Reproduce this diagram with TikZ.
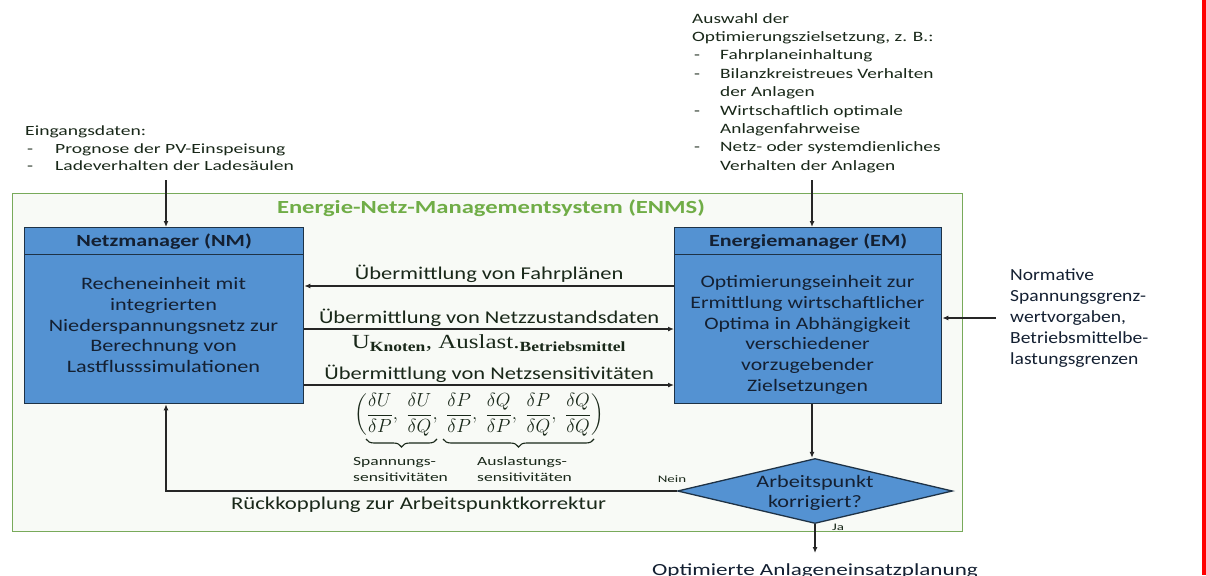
\RequirePackage{fix-cm}
\documentclass[tikz,border=0pt]{standalone}
\usepackage{amsmath}
\usepackage{fontspec}
\setmainfont{Carlito}
\newfontfamily\serifU{Liberation Serif}
\usetikzlibrary{shapes.geometric,arrows.meta,decorations.pathreplacing}
\definecolor{boxblue}{RGB}{84,146,210}
\definecolor{boxline}{RGB}{30,50,70}
\definecolor{enmsgreen}{RGB}{112,173,71}
\definecolor{enmsline}{RGB}{120,170,90}
\definecolor{enmsfill}{RGB}{248,250,246}
\definecolor{boxtxt}{RGB}{20,32,50}
\definecolor{lbltxt}{RGB}{25,40,25}
\newcommand{\wide}[1]{\addfontfeatures{FakeStretch=#1}}
\tikzset{
  panel/.style={draw=boxline, line width=1.3pt, fill=boxblue, inner sep=0pt, anchor=north west},
  arr/.style={line width=1.4pt, draw=black!85, -{Latex[length=6pt,width=5pt]}},
  flowlbl/.style={text=lbltxt, font=\fontsize{18}{21}\selectfont\wide{1.25}, inner sep=0pt},
  bodytxt/.style={text=boxtxt, align=center, font=\fontsize{17.5}{20.8}\selectfont\wide{1.27}, inner sep=0pt},
  headtxt/.style={text=boxtxt, font=\bfseries\fontsize{17}{20}\selectfont\wide{1.3}, inner sep=0pt},
  smalltxt/.style={text=lbltxt, font=\fontsize{12.5}{16}\selectfont\wide{1.4}, inner sep=0pt, align=left},
  tinytxt/.style={text=lbltxt, font=\fontsize{10}{11}\selectfont\wide{1.5}, inner sep=0pt},
  brc/.style={line width=1.1pt, draw=lbltxt, decorate, decoration={brace, mirror, amplitude=8pt}}
}
\begin{document}
\begin{tikzpicture}[x=1pt,y=-1pt]
\useasboundingbox (0,0) rectangle (1206,575);
\fill[white] (0,0) rectangle (1206,575);
\fill[red] (1201.5,0) rectangle (1206,575);

% ENMS frame
\node (enms) [draw=enmsline, line width=1.2pt, fill=enmsfill, minimum width=950, minimum height=338, inner sep=0pt, anchor=north west] at (12,193) {};
\node (title) [text=enmsgreen, font=\bfseries\fontsize{18.5}{22}\selectfont\wide{1.33}, inner sep=0pt] at (491,208) {Energie-Netz-Managementsystem (ENMS)};

% NM
\node (nmhead) [panel, minimum width=279, minimum height=27] at (24,227) {};
\node (nmbody) [panel, minimum width=279, minimum height=149] at (24,254) {};
\node (nmht) [headtxt] at (nmhead.center) {Netzmanager (NM)};
\node (nmbt) [bodytxt] at (163.5,325) {Recheneinheit mit\\integrierten\\Niederspannungsnetz zur\\Berechnung von\\Lastflusssimulationen};

% EM
\node (emhead) [panel, minimum width=267, minimum height=27] at (674,227) {};
\node (embody) [panel, minimum width=267, minimum height=149] at (674,254) {};
\node (emht) [headtxt] at (emhead.center) {Energiemanager (EM)};
\node (embt) [bodytxt, font=\fontsize{17.5}{20.8}\selectfont\wide{1.24}] at (807.5,335) {Optimierungseinheit zur\\Ermittlung wirtschaftlicher\\Optima in Abhängigkeit\\verschiedener\\vorzugebender\\Zielsetzungen};

% Decision
\node (dia) [diamond, draw=boxline, line width=1.3pt, fill=boxblue, minimum width=275, minimum height=65, inner sep=0pt] at (815,491) {};
\node (diat) [bodytxt] at (815,493) {Arbeitspunkt\\korrigiert?};

% Inputs
\node (inL) [smalltxt, anchor=north west, font=\fontsize{14}{17.6}\selectfont\wide{1.4}] at (25,123) {%
  \begin{tabular}{@{}p{30pt}@{}l@{}}
  \multicolumn{2}{@{}l}{Eingangsdaten:}\\
  \hspace{2pt}- & Prognose der PV-Einspeisung\\
  \hspace{2pt}- & Ladeverhalten der Ladesäulen
  \end{tabular}};
\node (inR) [smalltxt, anchor=north west, font=\fontsize{14.3}{18.4}\selectfont\wide{1.35}] at (692,10) {%
  \begin{tabular}{@{}p{28pt}@{}l@{}}
  \multicolumn{2}{@{}l}{Auswahl der}\\
  \multicolumn{2}{@{}l}{Optimierungszielsetzung, z. B.:}\\
  \hspace{2pt}- & Fahrplaneinhaltung\\
  \hspace{2pt}- & Bilanzkreistreues Verhalten\\
   & der Anlagen\\
  \hspace{2pt}- & Wirtschaftlich optimale\\
   & Anlagenfahrweise\\
  \hspace{2pt}- & Netz- oder systemdienliches\\
   & Verhalten der Anlagen
  \end{tabular}};
\node (norm) [text=boxtxt, align=left, anchor=west, inner sep=0pt, font=\fontsize{17}{21.2}\selectfont\wide{1.15}] at (1010,318) {Normative\\Spannungsgrenz-\\wertvorgaben,\\Betriebsmittelbe-\\lastungsgrenzen};

\coordinate (inLa) at (166,180);
\coordinate (inRa) at (812,180);
\coordinate (normA) at (996,318);
\coordinate (outA) at (815,553);

\draw[arr] (inLa) -- (inLa |- nmhead.north);
\draw[arr] (inRa) -- (inRa |- emhead.north);
\draw[arr] (normA) -- (normA -| embody.east);

% flows
\draw[arr] (embody.west |- 0,286) -- node[flowlbl, above=3pt] (f1) {Übermittlung von Fahrplänen} (nmbody.east |- 0,286);
\draw[arr] (nmbody.east |- 0,329) -- node[flowlbl, above=2pt] (f2) {Übermittlung von Netzzustandsdaten} (embody.west |- 0,329);
\node (f2b) [text=lbltxt, inner sep=0pt, font=\serifU\fontsize{20}{22}\selectfont\wide{1.25}] at (489,343) {U\textsubscript{\textbf{Knoten}}, Auslast.\textsubscript{\textbf{Betriebsmittel}}};
\draw[arr] (nmbody.east |- 0,385) -- node[flowlbl, above=2pt] (f3) {Übermittlung von Netzsensitivitäten} (embody.west |- 0,385);

% sensitivity matrix
\node (mat) [text=lbltxt, inner sep=0pt, font=\fontsize{19}{22}\selectfont] at (479,415) {$\displaystyle\biggl(\frac{\delta U}{\delta P},\;\frac{\delta U}{\delta Q},\;\frac{\delta P}{\delta P},\;\frac{\delta Q}{\delta P},\;\frac{\delta P}{\delta Q},\;\frac{\delta Q}{\delta Q}\biggr)$};
\coordinate (b1l) at (366,439);
\coordinate (b1r) at (437,439);
\coordinate (b2l) at (443,439);
\coordinate (b2r) at (594,439);
\draw[brc] (b1l) -- (b1r);
\draw[brc] (b2l) -- (b2r);
\node (s1) [smalltxt, anchor=north west] at (353,457) {Spannungs-\\sensitivitäten};
\node (s2) [smalltxt, anchor=north west] at (477,457) {Auslastungs-\\sensitivitäten};

% feedback
\draw[arr] (dia.west) -| (inLa |- nmbody.south);
\node (nein) [tinytxt] at (672,479) {Nein};
\node (fb) [flowlbl, font=\fontsize{18}{21}\selectfont\wide{1.265}] at (418.5,505) {Rückkopplung zur Arbeitspunktkorrektur};

% to decision and output
\draw[arr] (inRa |- embody.south) -- (inRa |- dia.north);
\draw[arr] (dia.south) -- (outA);
\node (ja) [tinytxt] at (838,527) {Ja};
\node (out) [text=boxtxt, inner sep=0pt, anchor=base, font=\fontsize{17}{20}\selectfont\wide{1.36}] at (815,575) {Optimierte Anlageneinsatzplanung};
\end{tikzpicture}
\end{document}
